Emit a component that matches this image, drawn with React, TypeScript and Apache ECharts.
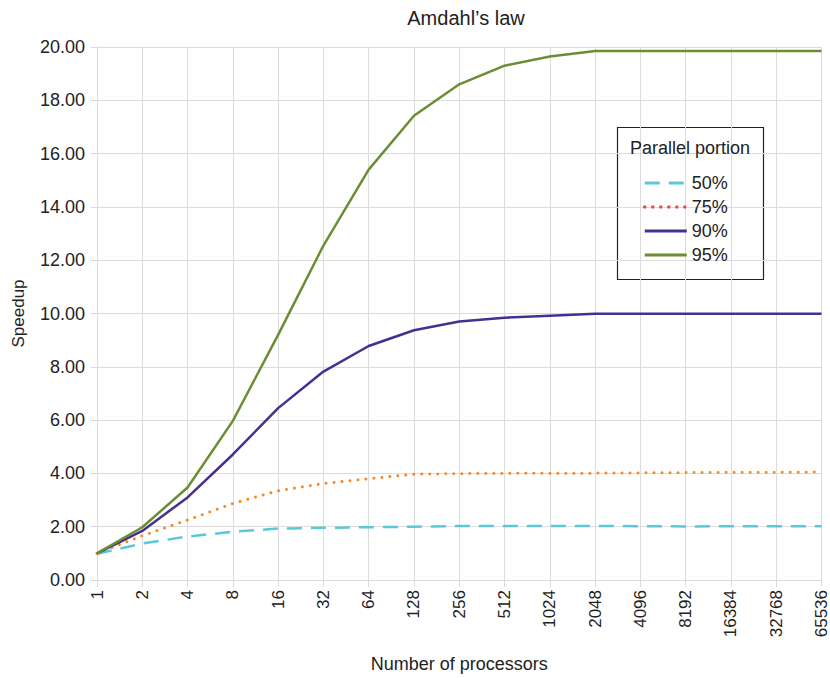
import React, { useEffect, useRef } from "react";
import * as echarts from "echarts";

const categories = ["1", "2", "4", "8", "16", "32", "64", "128", "256", "512", "1024", "2048", "4096", "8192", "16384", "32768", "65536"];
const p50 = [0.98, 1.37, 1.63, 1.81, 1.93, 1.96, 1.98, 2.0, 2.03, 2.03, 2.03, 2.03, 2.02, 2.01, 2.02, 2.02, 2.02];
const p75 = [1.0, 1.66, 2.25, 2.87, 3.35, 3.62, 3.8, 3.97, 3.99, 4.0, 4.01, 4.01, 4.02, 4.03, 4.04, 4.04, 4.05];
const p90 = [1.0, 1.84, 3.1, 4.71, 6.45, 7.82, 8.78, 9.37, 9.7, 9.84, 9.92, 9.99, 9.99, 9.99, 9.99, 9.99, 9.99];
const p95 = [1.0, 1.98, 3.47, 5.97, 9.2, 12.55, 15.4, 17.42, 18.6, 19.3, 19.64, 19.85, 19.85, 19.85, 19.85, 19.85, 19.85];
const yTicks = { min: 0, max: 20, interval: 2 };

export default function App() {
  const ref = useRef<HTMLDivElement>(null);
  useEffect(() => {
    const chart = echarts.init(ref.current!, undefined, { renderer: "svg" });
    const font = "Liberation Sans, Arial, sans-serif";
    const grid = "#dcdcdc";
    chart.setOption({
      animation: false,
      backgroundColor: "#ffffff",
      textStyle: { fontFamily: font },
      title: {
        text: "Amdahl\u2019s law",
        left: 461,
        top: 3,
        textAlign: "center",
        textStyle: { fontSize: 20, fontWeight: "normal", color: "#222", fontFamily: font },
      },
      grid: { left: 97, right: 6, top: 47, bottom: 95, containLabel: false },
      xAxis: {
        type: "category",
        data: categories,
        boundaryGap: false,
        name: "Number of processors",
        nameLocation: "middle",
        nameGap: 75,
        nameTextStyle: { fontSize: 18, color: "#222", fontFamily: font },
        axisLine: { show: true, lineStyle: { color: grid, width: 1 } },
        axisTick: { show: true, length: 7, lineStyle: { color: grid } },
        axisLabel: { rotate: 90, fontSize: 17, color: "#222", margin: 10, fontFamily: font },
        splitLine: { show: true, lineStyle: { color: grid, width: 1 } },
      },
      yAxis: {
        type: "value",
        min: yTicks.min,
        max: yTicks.max,
        interval: yTicks.interval,
        name: "Speedup",
        nameLocation: "middle",
        nameGap: 70,
        nameRotate: 90,
        nameTextStyle: { fontSize: 17, color: "#222", fontFamily: font },
        axisLine: { show: true, lineStyle: { color: grid, width: 1 } },
        axisTick: { show: true, length: 6, lineStyle: { color: grid } },
        axisLabel: {
          fontSize: 18,
          color: "#222",
          margin: 12,
          fontFamily: font,
          formatter: (v: number) => v.toFixed(2),
        },
        splitLine: { show: true, lineStyle: { color: grid, width: 1 } },
      },
      legend: {
        orient: "vertical",
        left: 638,
        top: 169,
        itemWidth: 42,
        itemHeight: 14,
        itemGap: 6,
        itemStyle: { opacity: 0 },
        textStyle: { fontSize: 18, color: "#222", fontFamily: font },
        data: [
          { name: "50%", lineStyle: { width: 3 } },
          { name: "75%", lineStyle: { color: "#f0464e", width: 3.5 } },
          { name: "90%", lineStyle: { width: 3 } },
          { name: "95%", lineStyle: { width: 3 } },
        ],
      },
      graphic: [
        {
          type: "rect",
          shape: { x: 617.5, y: 127.5, width: 146, height: 152 },
          style: { fill: "#fff", stroke: "#222", lineWidth: 1.2 },
          z: 0,
        },
        {
          type: "text",
          x: 690,
          y: 148,
          style: {
            text: "Parallel portion",
            fontSize: 18,
            fill: "#222",
            fontFamily: font,
            align: "center",
            verticalAlign: "middle",
          },
          z: 1,
        },
      ],
      series: [
        {
          name: "50%",
          type: "line",
          data: p50,
          showSymbol: false,
          symbol: "none",
          lineStyle: { color: "#5bc8d9", width: 2.5, type: [15, 9] },
          itemStyle: { color: "#5bc8d9" },
        },
        {
          name: "75%",
          type: "line",
          data: p75,
          showSymbol: false,
          symbol: "none",
          lineStyle: { color: "#f58a23", width: 3, type: [0.01, 8], cap: "round" },
          itemStyle: { color: "#f58a23" },
        },
        {
          name: "90%",
          type: "line",
          data: p90,
          showSymbol: false,
          symbol: "none",
          lineStyle: { color: "#472f92", width: 2.5 },
          itemStyle: { color: "#472f92" },
        },
        {
          name: "95%",
          type: "line",
          data: p95,
          showSymbol: false,
          symbol: "none",
          lineStyle: { color: "#6b8e35", width: 2.5 },
          itemStyle: { color: "#6b8e35" },
        },
      ],
    });
    return () => chart.dispose();
  }, []);
  return <div ref={ref} style={{ width: 830, height: 678, position: "absolute", left: 0, top: 0 }} />;
}
